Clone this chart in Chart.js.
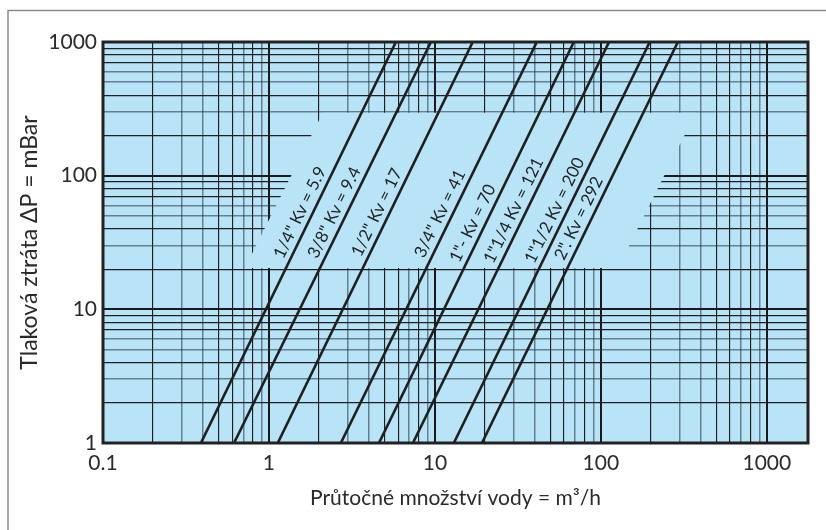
<!DOCTYPE html>
<html><head><meta charset="utf-8">
<script src="https://cdn.jsdelivr.net/npm/chart.js@4.4.1/dist/chart.umd.min.js"></script>
<style>html,body{margin:0;padding:0;background:#fff;}#wrap{width:826px;height:530px;position:relative;}</style>
</head><body><div id="wrap"><canvas id="c" width="826" height="530"></canvas></div>
<script>
// ---- data ----
const kvLabels = ['1/4" Kv = 5.9','3/8" Kv = 9.4','1/2" Kv = 17','3/4" Kv = 41','1"- Kv = 70','1"1/4 Kv = 121','1"1/2 Kv = 200','2". Kv = 292'];
const flowAtMinDp = [0.389, 0.616, 1.13, 2.71, 4.60, 7.37, 13.0, 19.2];   // m3/h at 1 mbar
const flowAtMaxDp = [5.82, 9.46, 16.9, 41.1, 68.7, 112, 197, 291];       // m3/h at 1000 mbar
const dpEnds = [1, 1000];                                                  // mbar
const labelDp = [53, 53, 53, 52, 44, 55, 55, 48];                          // mbar where each label sits
const xTickLabels = [0.1, 1, 10, 100, 1000];
const yTickLabels = [1, 10, 100, 1000];
const gridSteps = [1, 2, 3, 4, 5, 6, 7, 8, 9];
const xDecades = [0.1, 1, 10, 100];
const yDecades = [1, 10, 100];
const xRange = [0.1, 1770];
const yRange = [1, 1000];
const bandFlow = [2.11, 373, 126.6, 0.716];   // label band without grid (corners)
const bandDp = [295, 295, 20.4, 20.4];

// ---- helpers ----
const FONT = 'Lato, "Noto Sans", sans-serif';
const BLUE = '#b9e4f8';
const near = (a, b) => Math.abs(a - b) / b < 1e-6;
const gridVals = (decs, last) => { const v = []; decs.forEach(d => gridSteps.forEach(s => v.push(+(d * s).toPrecision(6)))); v.push(last); return v; };
const xGrid = gridVals(xDecades, 1000);
const yGrid = gridVals(yDecades, 1000);
const greyX = [3, 4, 7, 9];
const greyY = [3, 5, 6];
function lineStyle(v, greys) {
  const m = +(v / Math.pow(10, Math.floor(Math.log10(v) + 1e-9))).toFixed(3);
  if (near(m, 1)) return { c: '#1b1b1b', w: 2 };
  if (greys.some(g => near(m, g))) return { c: 'rgba(35,55,70,0.58)', w: 1.5 };
  return { c: '#202020', w: 1.15 };
}
const fmt = v => { const f = xTickLabels.concat(yTickLabels).find(t => near(v, t)); return f === undefined ? '' : String(f); };

const datasets = kvLabels.map((lab, i) => ({
  label: lab,
  data: [{ x: flowAtMinDp[i], y: dpEnds[0] }, { x: flowAtMaxDp[i], y: dpEnds[1] }],
  showLine: true, borderColor: '#1f1f1f', borderWidth: 2.6, pointRadius: 0, fill: false
}));

const decor = {
  id: 'decor',
  beforeDraw(chart) {
    const { ctx, chartArea: a } = chart;
    ctx.save();
    ctx.fillStyle = BLUE;
    ctx.fillRect(a.left, a.top, a.right - a.left, a.bottom - a.top);
    ctx.strokeStyle = '#8a8a8a'; ctx.lineWidth = 1.5;
    ctx.beginPath(); ctx.moveTo(8, 530); ctx.lineTo(8, 10.5); ctx.lineTo(826, 10.5); ctx.stroke();
    ctx.restore();
  },
  beforeDatasetsDraw(chart) {
    const { ctx, scales: { x, y } } = chart;
    ctx.save();
    ctx.fillStyle = BLUE;
    ctx.beginPath();
    bandFlow.forEach((f, i) => { const px = x.getPixelForValue(f), py = y.getPixelForValue(bandDp[i]); i ? ctx.lineTo(px, py) : ctx.moveTo(px, py); });
    ctx.closePath(); ctx.fill();
    ctx.restore();
  },
  afterDatasetsDraw(chart) {
    const { ctx, chartArea: a, scales: { x, y } } = chart;
    ctx.save();
    ctx.strokeStyle = '#222'; ctx.lineWidth = 3;
    ctx.strokeRect(a.left, a.top, a.right - a.left, a.bottom - a.top);
    ctx.fillStyle = '#222';
    ctx.font = '17px ' + FONT;
    ctx.textAlign = 'center'; ctx.textBaseline = 'middle';
    kvLabels.forEach((lab, i) => {
      const x1 = x.getPixelForValue(flowAtMinDp[i]), y1 = y.getPixelForValue(dpEnds[0]);
      const x2 = x.getPixelForValue(flowAtMaxDp[i]), y2 = y.getPixelForValue(dpEnds[1]);
      const py = y.getPixelForValue(labelDp[i]);
      const px = x1 + (py - y1) * (x2 - x1) / (y2 - y1) - 13;
      ctx.save(); ctx.translate(px, py); ctx.rotate(Math.atan2(y2 - y1, x2 - x1));
      ctx.fillText(lab, 0, 0); ctx.restore();
    });
    ctx.restore();
  }
};

new Chart(document.getElementById('c'), {
  type: 'scatter',
  data: { datasets },
  plugins: [decor],
  options: {
    responsive: false, animation: false,
    layout: { padding: { top: 42, right: 18, left: 0, bottom: 0 } },
    plugins: { legend: { display: false }, tooltip: { enabled: false } },
    scales: {
      x: {
        type: 'logarithmic', min: xRange[0], max: xRange[1],
        afterBuildTicks: s => { s.ticks = xGrid.map(v => ({ value: v })); },
        afterFit: s => { s.height = 87; },
        ticks: { autoSkip: false, maxRotation: 0, padding: 8, color: '#2a2a2a', font: { family: FONT, size: 21 }, callback: v => fmt(v) },
        grid: { drawTicks: false, color: c => lineStyle(c.tick.value, greyX).c, lineWidth: c => lineStyle(c.tick.value, greyX).w },
        border: { display: false },
        title: { display: true, text: 'Průtočné množství vody = m³/h', color: '#2a2a2a', font: { family: FONT, size: 21 }, padding: { bottom: 19, top: 0 } }
      },
      y: {
        type: 'logarithmic', min: yRange[0], max: yRange[1],
        afterBuildTicks: s => { s.ticks = yGrid.map(v => ({ value: v })); },
        afterFit: s => { s.width = 103; },
        ticks: { autoSkip: false, padding: 6, color: '#2a2a2a', font: { family: FONT, size: 21 }, callback: v => fmt(v) },
        grid: { drawTicks: false, color: c => lineStyle(c.tick.value, greyY).c, lineWidth: c => lineStyle(c.tick.value, greyY).w },
        border: { display: false },
        title: { display: true, text: 'Tlaková ztráta ΔP = mBar', color: '#2a2a2a', font: { family: FONT, size: 23 }, padding: { top: 16, bottom: 0 } }
      }
    }
  }
});
</script></body></html>
